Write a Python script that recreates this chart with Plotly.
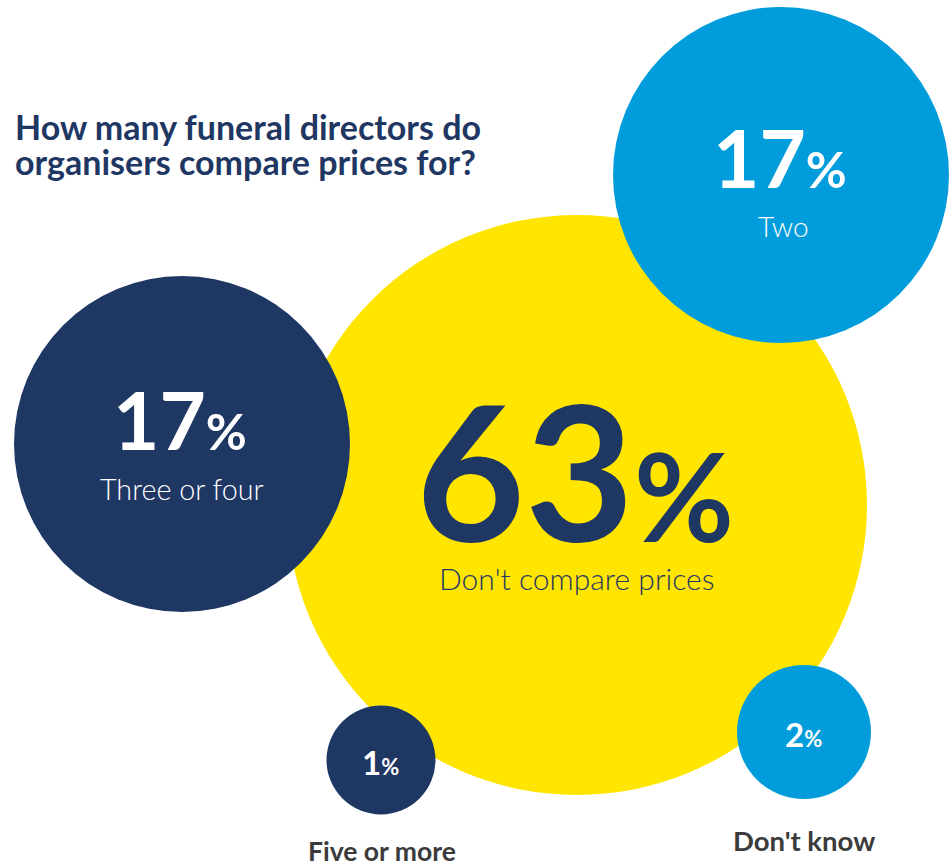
import plotly.graph_objects as go

# ---- data ----
categories = ["Don't compare prices", "Two", "Three or four", "Five or more", "Don't know"]
percent_values = [63, 17, 17, 1, 2]
title_lines = ["How many funeral directors do", "organisers compare prices for?"]

# ---- layout constants (pixel positions / sizes / styles) ----
W, H = 949, 868
centers_x = [577, 781, 182, 381, 804]
centers_y = [505, 175, 444, 760, 732]
radii = [290, 168, 168, 54.5, 67]
colors = ["#FFE500", "#009CDB", "#1F3763", "#1F3763", "#009CDB"]

NAVY = "#1F3763"
GREY = "#3B3B3B"
FONT = "Lato"

fig = go.Figure()
for i, cat in enumerate(categories):
    fig.add_trace(go.Scatter(
        x=[centers_x[i]], y=[centers_y[i]], mode="markers",
        marker=dict(size=2 * radii[i], color=colors[i], line=dict(width=0), opacity=1),
        hoverinfo="skip", showlegend=False, name=cat, cliponaxis=False,
    ))

def pct(v, small):
    return f"<b>{v}<span style='font-size:{small}px'>%</span></b>"

ann = []
# Title (two lines, tighter spacing than <br>)
ann.append(dict(x=13, y=126, xanchor="left", text=f"<b>{title_lines[0]}</b>",
                font=dict(family=FONT, size=34, color=NAVY)))
ann.append(dict(x=13, y=161, xanchor="left", text=f"<b>{title_lines[1]}</b>",
                font=dict(family=FONT, size=34, color=NAVY)))

# 63% - Don't compare prices
ann.append(dict(x=575, y=469, text=pct(percent_values[0], 122),
                font=dict(family=FONT, size=188, color=NAVY)))
ann.append(dict(x=576, y=578, text=categories[0],
                font=dict(family=FONT, size=30, color=NAVY, weight=300)))
# 17% Two
ann.append(dict(x=780, y=157, text=pct(percent_values[1], 50),
                font=dict(family=FONT, size=80, color="white")))
ann.append(dict(x=783, y=226, text=categories[1],
                font=dict(family=FONT, size=28, color="white", weight=300)))
# 17% Three or four
ann.append(dict(x=180, y=419, text=pct(percent_values[2], 50),
                font=dict(family=FONT, size=80, color="white")))
ann.append(dict(x=182, y=489, text=categories[2],
                font=dict(family=FONT, size=28.7, color="white", weight=300)))
# 1%
ann.append(dict(x=380, y=762, text=pct(percent_values[3], 22),
                font=dict(family=FONT, size=33, color="white")))
ann.append(dict(x=382, y=851, text=f"<b>{categories[3]}</b>",
                font=dict(family=FONT, size=26.5, color=GREY)))
# 2%
ann.append(dict(x=803, y=734, text=pct(percent_values[4], 22),
                font=dict(family=FONT, size=33, color="white")))
ann.append(dict(x=804, y=840, text=f"<b>{categories[4]}</b>",
                font=dict(family=FONT, size=27.5, color=GREY)))

for a in ann:
    a.setdefault("xref", "x")
    a.setdefault("yref", "y")
    a.setdefault("showarrow", False)
    a.setdefault("xanchor", "center")
    a.setdefault("yanchor", "middle")

fig.update_layout(
    width=W, height=H,
    margin=dict(l=0, r=0, t=0, b=0),
    paper_bgcolor="white", plot_bgcolor="white",
    xaxis=dict(range=[0, W], visible=False, fixedrange=True),
    yaxis=dict(range=[H, 0], visible=False, fixedrange=True),
    annotations=ann,
)

fig.write_html(
    "out.html",
    config={"displayModeBar": False},
    post_script="document.body.style.margin='0';document.body.style.overflow='hidden';",
)
